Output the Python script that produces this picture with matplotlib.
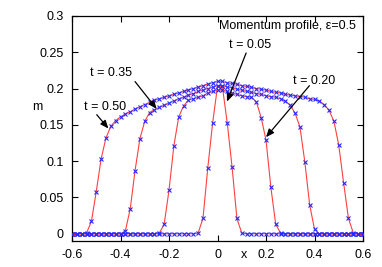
import numpy as np
import matplotlib
matplotlib.use("Agg")
import matplotlib.pyplot as plt

plt.rcParams['font.family'] = ['Liberation Sans', 'DejaVu Sans']

# grid points, x = -0.6 ... 0.6, step 0.02
x = [-0.60, -0.58, -0.56, -0.54, -0.52, -0.50, -0.48, -0.46, -0.44, -0.42,
     -0.40, -0.38, -0.36, -0.34, -0.32, -0.30, -0.28, -0.26, -0.24, -0.22,
     -0.20, -0.18, -0.16, -0.14, -0.12, -0.10, -0.08, -0.06, -0.04, -0.02,
     0.00, 0.02, 0.04, 0.06, 0.08, 0.10, 0.12, 0.14, 0.16, 0.18,
     0.20, 0.22, 0.24, 0.26, 0.28, 0.30, 0.32, 0.34, 0.36, 0.38,
     0.40, 0.42, 0.44, 0.46, 0.48, 0.50, 0.52, 0.54, 0.56, 0.58, 0.60]

m_t005 = [0, 0, 0, 0, 0, 0, 0, 0, 0, 0,
          0, 0, 0, 0, 0, 0, 0, 0, 0, 0,
          0, 0, 0, 0, 0, 0, 0.001, 0.021, 0.091, 0.153,
          0.203, 0.203, 0.153, 0.092, 0.021, 0.001, 0, 0, 0, 0,
          0, 0, 0, 0, 0, 0, 0, 0, 0, 0,
          0, 0, 0, 0, 0, 0, 0, 0, 0, 0, 0]

m_t020 = [0, 0, 0, 0, 0, 0, 0, 0, 0, 0,
          0, 0, 0, 0, 0, 0, 0, 0, 0.001, 0.013,
          0.060, 0.121, 0.161, 0.176, 0.184, 0.186, 0.188, 0.190, 0.194, 0.196,
          0.198, 0.198, 0.196, 0.194, 0.192, 0.190, 0.189, 0.188, 0.182, 0.160,
          0.129, 0.064, 0.013, 0.001, 0, 0, 0, 0, 0, 0,
          0, 0, 0, 0, 0, 0, 0, 0, 0, 0, 0]

m_t035 = [0, 0, 0, 0, 0, 0, 0, 0, 0, 0,
          0, 0.004, 0.034, 0.087, 0.131, 0.155, 0.167, 0.171, 0.174, 0.177,
          0.180, 0.183, 0.186, 0.188, 0.191, 0.193, 0.196, 0.198, 0.200, 0.202,
          0.204, 0.204, 0.202, 0.201, 0.199, 0.198, 0.196, 0.195, 0.193, 0.192,
          0.190, 0.189, 0.188, 0.186, 0.183, 0.177, 0.166, 0.147, 0.099, 0.040,
          0.006, 0, 0, 0, 0, 0, 0, 0, 0, 0, 0]

m_t050 = [0, 0, 0, 0.001, 0.017, 0.058, 0.103, 0.132, 0.148, 0.156,
          0.161, 0.165, 0.168, 0.172, 0.175, 0.178, 0.181, 0.184, 0.186, 0.188,
          0.190, 0.192, 0.194, 0.196, 0.198, 0.200, 0.202, 0.204, 0.206, 0.208,
          0.210, 0.210, 0.208, 0.207, 0.206, 0.204, 0.203, 0.202, 0.200, 0.199,
          0.198, 0.196, 0.195, 0.194, 0.192, 0.191, 0.190, 0.189, 0.188, 0.186,
          0.185, 0.183, 0.178, 0.170, 0.155, 0.122, 0.070, 0.021, 0.001, 0, 0]

profiles = [m_t005, m_t020, m_t035, m_t050]

fig = plt.figure(figsize=(3.82, 2.67), dpi=100)
ax = fig.add_axes([0.1885, 0.0974, 0.7618, 0.8427])

for m in profiles:
    ax.plot(x, m, color='#ff4040', lw=0.8, zorder=2)
for m in profiles:
    ax.plot(x, m, ls='none', marker='x', ms=3.2, mew=0.8,
            color='#2828ff', zorder=3)

ax.set_xlim(-0.6, 0.6)
ax.set_ylim(-0.01, 0.3)
ax.set_xticks([-0.6, -0.4, -0.2, 0, 0.2, 0.4, 0.6])
ax.set_xticklabels(['-0.6', '-0.4', '-0.2', '0', '0.2', '0.4', '0.6'])
ax.set_yticks([0, 0.05, 0.1, 0.15, 0.2, 0.25, 0.3])
ax.set_yticklabels(['0', '0.05', '0.1', '0.15', '0.2', '0.25', '0.3'])
ax.tick_params(direction='in', top=True, right=True, length=4, width=0.8,
               labelsize=9, pad=6)
for s in ax.spines.values():
    s.set_linewidth(0.9)

ax.set_xlabel('x', fontsize=9)
ax.xaxis.set_label_coords(0.591, -0.036)
ax.set_ylabel('m', fontsize=9, rotation=0, va='center', ha='center')
ax.yaxis.set_label_coords(-0.12, 0.596)

ax.text(0.976, 0.956, 'Momentum profile, \u03b5=0.5', transform=ax.transAxes,
        ha='right', va='center', fontsize=9)

labels = [('t = 0.05', (0.133, 0.260), (0.118, 0.249), (0.039, 0.182)),
          ('t = 0.20', (0.397, 0.2105), (0.379, 0.204), (0.200, 0.133)),
          ('t = 0.35', (-0.440, 0.221), (-0.340, 0.2096), (-0.251, 0.172)),
          ('t = 0.50', (-0.464, 0.174), (-0.498, 0.164), (-0.450, 0.145))]
for txt, pos, start, tip in labels:
    ax.text(pos[0], pos[1], txt, ha='center', va='center', fontsize=9)
    ax.annotate('', xy=tip, xytext=start,
                arrowprops=dict(arrowstyle='-|>,head_length=0.6,head_width=0.25',
                                color='black', lw=0.9, mutation_scale=8,
                                shrinkA=0, shrinkB=0))

fig.savefig('out.png', dpi=100)
